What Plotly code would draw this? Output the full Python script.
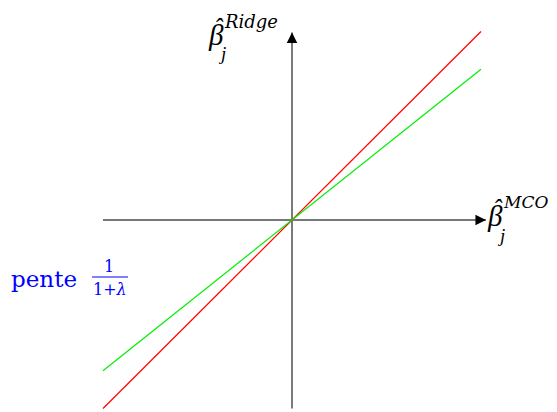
import plotly.graph_objects as go

# page body adds an 8px margin, so the figure is a little smaller than the window
OFFSET = 8
W, H = 557 - OFFSET, 412 - OFFSET

# OLS coefficient (x) vs ridge coefficient (y)
beta_mco = [-1.0, 1.0]
ridge_identity = [-1.0, 1.0]   # pente 1 (rouge)
ridge_shrunk = [-0.8, 0.8]     # pente 1/(1+lambda) (vert)

x_axis_span = [-1.0, 1.026]
y_axis_span = [-1.0, 0.995]

X_RANGE = [-1.5026, 1.402]
Y_RANGE = [-1.0186, 1.1247]

SERIF = "Liberation Serif, Times New Roman, serif"
DEJAVU = "DejaVu Serif, serif"


def paper(px, py):
    # px, py are window pixels
    return (px - OFFSET) / W, 1 - (py - OFFSET) / H


fig = go.Figure()

# axes drawn as plain lines
fig.add_trace(go.Scatter(x=x_axis_span, y=[0, 0], mode="lines",
                         line={"color": "#4a4a4a", "width": 1.5}, hoverinfo="skip"))
fig.add_trace(go.Scatter(x=[0, 0], y=y_axis_span, mode="lines",
                         line={"color": "#7a7a7a", "width": 2}, hoverinfo="skip"))

fig.add_trace(go.Scatter(x=beta_mco, y=ridge_identity, mode="lines",
                         line={"color": "#ff0000", "width": 1.2}, hoverinfo="skip"))
fig.add_trace(go.Scatter(x=beta_mco, y=ridge_shrunk, mode="lines",
                         line={"color": "#00ee00", "width": 1.2}, hoverinfo="skip"))

# arrow heads
fig.add_annotation(x=x_axis_span[1], y=0, ax=x_axis_span[1] - 0.06, ay=0,
                   xref="x", yref="y", axref="x", ayref="y", text="",
                   showarrow=True, arrowhead=2, arrowsize=1.4, arrowwidth=1.5,
                   arrowcolor="#000000")
fig.add_annotation(x=0, y=y_axis_span[1], ax=0, ay=y_axis_span[1] - 0.06,
                   xref="x", yref="y", axref="x", ayref="y", text="",
                   showarrow=True, arrowhead=2, arrowsize=1.4, arrowwidth=1.5,
                   arrowcolor="#000000")


def label(text, px, py, size, color="#000000", italic=True, anchor="center",
          family=SERIF):
    x, y = paper(px, py)
    fig.add_annotation(x=x, y=y, xref="paper", yref="paper", text=text,
                       showarrow=False, xanchor=anchor, yanchor="middle",
                       font={"family": family, "size": size, "color": color,
                             "style": "italic" if italic else "normal"})


def beta_label(px, py, sup, sup_size):
    # px, py: centre of the beta glyph
    label("β", px, py, 29)
    label("ˆ", px + 3, py - 8, 25)
    label("j", px + 6, py + 19, 19)
    label(sup, px + 6, py - 14, sup_size, anchor="left", family=DEJAVU)


beta_label(216, 35, "Ridge", 18)
beta_label(495, 216, "MCO", 17)

# slope label
label("pente", 9, 279, 23, color="#0000ff", italic=False, anchor="left",
      family=DEJAVU)
label("1", 109, 266, 16, color="#0000ff", italic=False, family=DEJAVU)
label("1+<i>λ</i>", 110, 289, 16, color="#0000ff", italic=False, family=DEJAVU)
bx0, by = paper(92, 277)
bx1, _ = paper(128, 277)
fig.add_shape(type="line", xref="paper", yref="paper",
              x0=bx0, x1=bx1, y0=by, y1=by,
              line={"color": "#0000ff", "width": 1})

fig.update_layout(
    width=W,
    height=H,
    autosize=False,
    margin={"l": 0, "r": 0, "t": 0, "b": 0},
    paper_bgcolor="#ffffff",
    plot_bgcolor="#ffffff",
    showlegend=False,
    xaxis={"range": X_RANGE, "visible": False, "fixedrange": True},
    yaxis={"range": Y_RANGE, "visible": False, "fixedrange": True},
)

fig.write_html("out.html", config={"displayModeBar": False})
